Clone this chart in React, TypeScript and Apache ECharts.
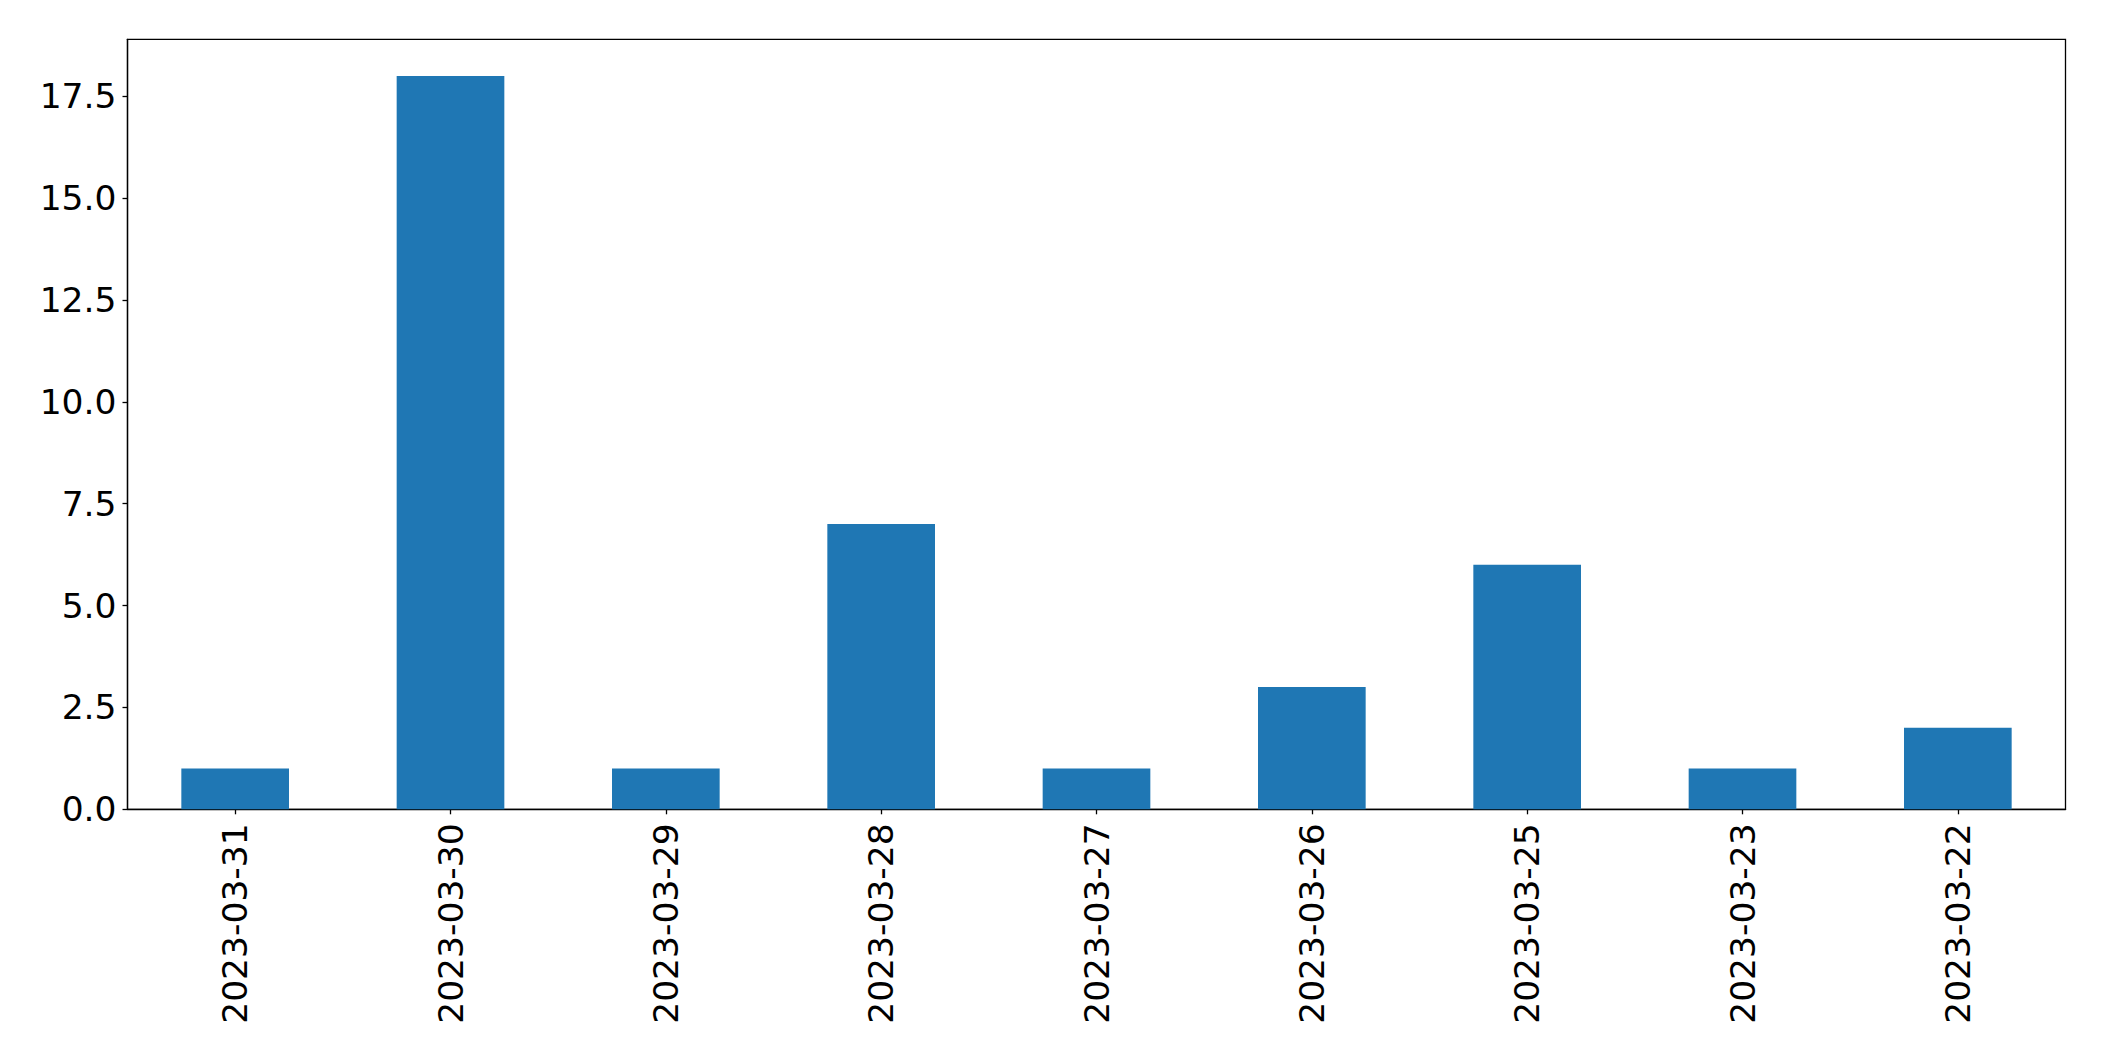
import React, { useEffect, useRef } from "react";
import * as echarts from "echarts";

const categories = [
  "2023-03-31",
  "2023-03-30",
  "2023-03-29",
  "2023-03-28",
  "2023-03-27",
  "2023-03-26",
  "2023-03-25",
  "2023-03-23",
  "2023-03-22",
];
const counts = [1, 18, 1, 7, 1, 3, 6, 1, 2];
const yTicks = [0, 2.5, 5, 7.5, 10, 12.5, 15, 17.5];
const yMax = 18.9;

export default function App() {
  const ref = useRef<HTMLDivElement>(null);
  useEffect(() => {
    if (!ref.current) return;
    const chart = echarts.init(ref.current, null, { renderer: "svg" });
    const font = "DejaVu Sans";
    chart.setOption({
      animation: false,
      backgroundColor: "#ffffff",
      grid: {
        left: 127.5,
        top: 39.3,
        width: 1938,
        height: 770,
        show: true,
        borderColor: "#000000",
        borderWidth: 1.3,
        backgroundColor: "transparent",
      },
      xAxis: {
        type: "category",
        data: categories,
        axisLine: { show: true, lineStyle: { color: "#000", width: 1.3 } },
        axisTick: { show: true, alignWithLabel: true, length: 5, lineStyle: { color: "#000", width: 1.3 } },
        axisLabel: {
          rotate: 90,
          fontFamily: font,
          fontSize: 34.5,
          color: "#000",
          margin: 14,
          interval: 0,
        },
        splitLine: { show: false },
      },
      yAxis: {
        type: "value",
        min: 0,
        max: yMax,
        axisLine: { show: true, lineStyle: { color: "#000", width: 1.3 } },
        axisTick: { show: true, length: 5, customValues: yTicks, lineStyle: { color: "#000", width: 1.3 } },
        axisLabel: {
          customValues: yTicks,
          fontFamily: font,
          fontSize: 34.5,
          color: "#000",
          margin: 11,
          formatter: (v: number) => v.toFixed(1),
        },
        splitLine: { show: false },
      },
      series: [
        {
          type: "bar",
          data: counts,
          barWidth: "50%",
          itemStyle: { color: "#1f77b4" },
        },
      ],
    });
    return () => chart.dispose();
  }, []);
  return (
    <div
      ref={ref}
      style={{ position: "fixed", left: 0, top: 0, width: 2104, height: 1061 }}
    />
  );
}
